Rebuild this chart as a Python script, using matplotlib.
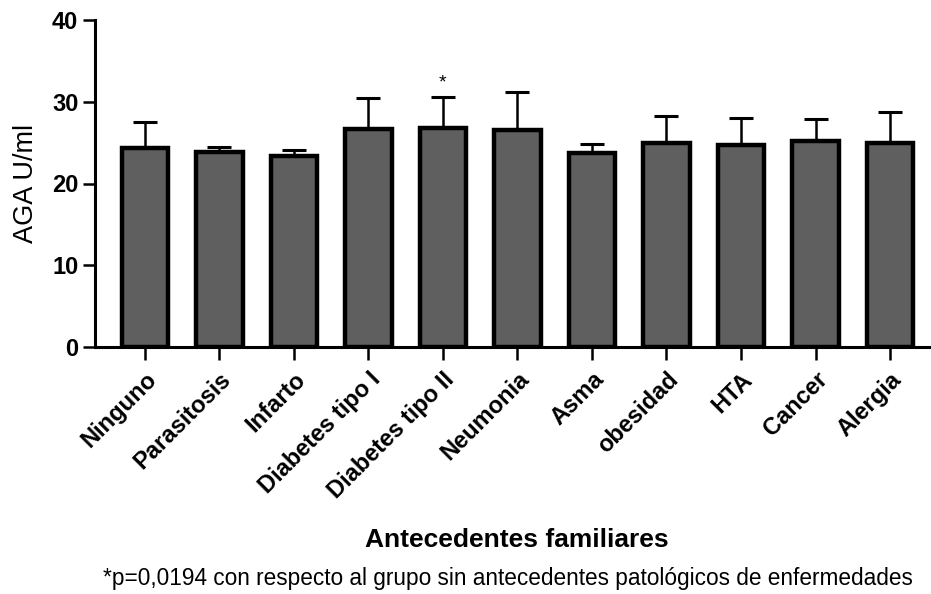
import matplotlib.pyplot as plt
import numpy as np

plt.rcParams['font.family'] = ['Liberation Sans', 'DejaVu Sans']

grupos = ["Ninguno", "Parasitosis", "Infarto", "Diabetes tipo I", "Diabetes tipo II",
          "Neumonia", "Asma", "obesidad", "HTA", "Cancer", "Alergia"]
media = [24.3, 23.8, 23.4, 26.7, 26.85, 26.6, 23.7, 25.0, 24.75, 25.15, 24.95]
sem = [3.2, 0.7, 0.7, 3.7, 3.75, 4.55, 1.1, 3.2, 3.3, 2.8, 3.75]
signif = ["", "", "", "", "*", "", "", "", "", "", ""]

fig = plt.figure(figsize=(9.31, 5.94), dpi=100)
ax = fig.add_axes([95 / 931, 1 - 347 / 594, 1 - 95 / 931, 327 / 594])

x = np.arange(len(grupos))
ax.bar(x, media, width=0.62, color="#5f5f5f", edgecolor="black", linewidth=3.2, zorder=2)
ax.errorbar(x, media, yerr=[np.zeros(len(sem)), sem], fmt="none", ecolor="black",
            elinewidth=1.8, capsize=8.5, capthick=2.2, zorder=1)

for xi, m, s, lab in zip(x, media, sem, signif):
    if lab:
        ax.annotate(lab, (xi, m + s), xytext=(0, 4), textcoords="offset points",
                    ha="center", va="bottom", fontsize=14)

ax.set_ylim(0, 40)
ax.set_xlim(-0.67, 10.55)
ax.set_yticks([0, 10, 20, 30, 40])
ax.set_xticks(x)
ax.set_xticklabels(grupos, rotation=45, ha="right", rotation_mode="anchor",
                   fontsize=17, fontweight="bold")
for t in ax.get_yticklabels():
    t.set_fontweight("bold")
    t.set_fontsize(17)
ax.tick_params(axis="both", length=9, width=1.8, color="black")
ax.tick_params(axis="x", pad=6)
ax.tick_params(axis="y", pad=3)
for side in ["top", "right"]:
    ax.spines[side].set_visible(False)
for side in ["left", "bottom"]:
    ax.spines[side].set_linewidth(2.2)

ax.set_ylabel("AGA U/ml", fontsize=19.5)
ax.yaxis.set_label_coords(-0.067, 0.5)

fig.text(0.555, 1 - 540 / 594, "Antecedentes familiares", ha="center", va="center",
         fontsize=19, fontweight="bold")
fig.text(0.546, 1 - 579 / 594,
         "*p=0,0194 con respecto al grupo sin antecedentes patológicos de enfermedades",
         ha="center", va="center", fontsize=16.3)

fig.savefig("out.png", dpi=100)
